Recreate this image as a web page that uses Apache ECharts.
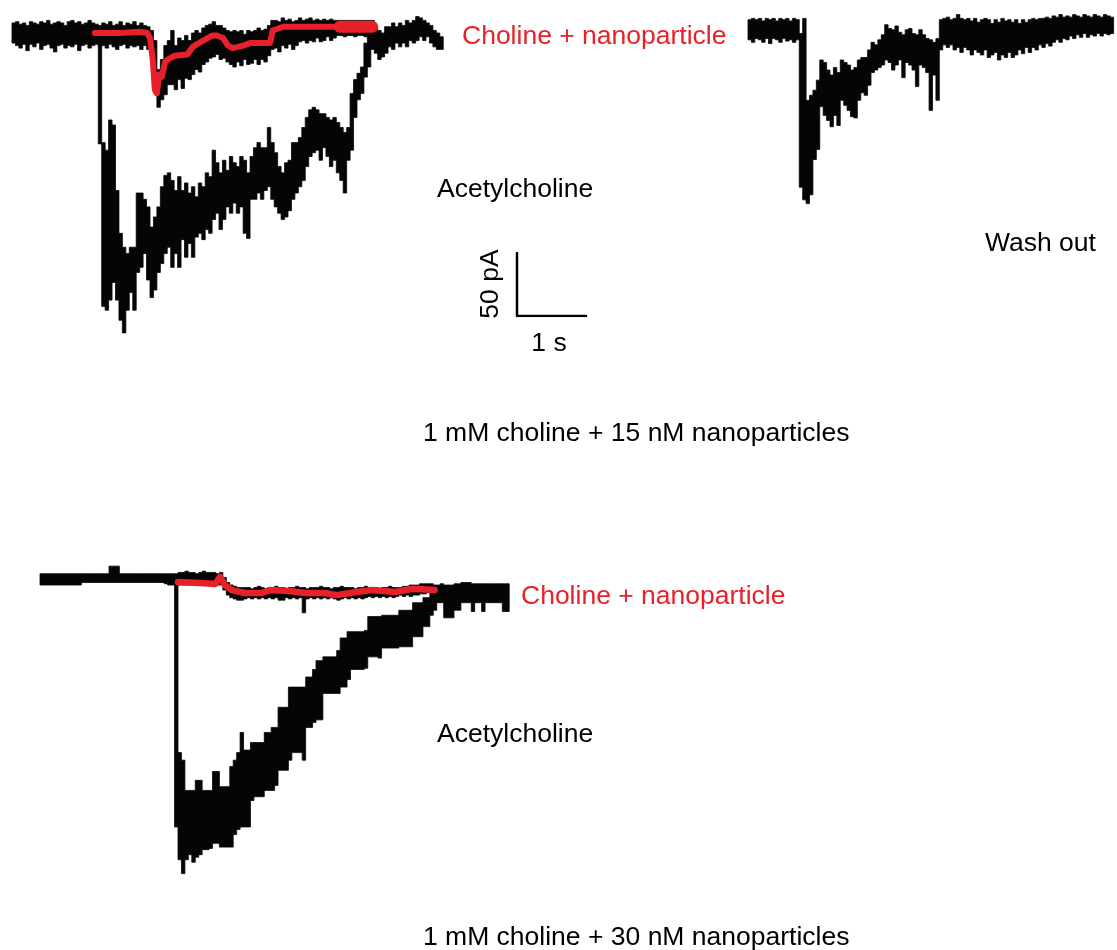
<!DOCTYPE html>
<html>
<head>
<meta charset="utf-8">
<script src="https://cdn.jsdelivr.net/npm/echarts@6/dist/echarts.min.js"></script>
<style>
html,body{margin:0;padding:0;background:#fff;}
#chart{width:1117px;height:950px;}
</style>
</head>
<body>
<div id="chart"></div>
<script>
// ---------- DATA (time in s, current in pA, sampled every 0.05 s) ----------
const sampleStep = 0.05;

// Top panel (15 nM): acetylcholine response, envelope of trace
const achTopHi = [8,9,7,8,6,9,8,7,9,8,10,7,8,9,8,6,9,10,8,9,7,8,10,8,7,
  0,-87,-93,-69,-73,-125,-159,-170,-175,-170,-170,-127,-127,-132,-138,-154,-146,-138,-122,-113,-111,-117,-125,-114,-125,
  -119,-127,-122,-130,-119,-122,-111,-114,-93,-103,-111,-101,-109,-98,-103,-106,-98,-101,-111,-98,-91,-87,-91,-91,-75,
  -87,-95,-106,-111,-103,-101,-87,-87,-83,-75,-67,-61,-59,-61,-64,-64,-67,-69,-67,-71,-75,-79,-75,-48,-37,-32,-27,-8,2,5,
  5,2,0,5,5,8,5,8,6,10,8,10,13,12,10,8,6,2,0,-3];
const achTopLo = [-8,-10,-12,-9,-14,-9,-11,-8,-13,-10,-9,-12,-15,-10,-9,-12,-10,-11,-9,-14,-10,-9,-12,-10,-9,
  -88,-217,-220,-212,-198,-212,-228,-238,-220,-206,-220,-190,-186,-175,-196,-210,-204,-190,-183,-175,-170,-186,-175,-186,-164,
  -178,-167,-178,-162,-159,-164,-156,-159,-148,-143,-156,-148,-138,-143,-135,-143,-138,-159,-163,-132,-132,-127,-132,-125,-122,
  -132,-138,-143,-148,-146,-141,-132,-127,-122,-117,-106,-98,-95,-93,-101,-91,-98,-106,-101,-111,-117,-127,-101,-93,-67,-53,-48,-35,-27,-13,
  -16,-21,-19,-16,-11,-13,-8,-11,-8,-11,-6,-8,-6,-3,-6,-3,-8,-11,-13,-13];

// Top panel: choline + nanoparticle trace (starts at 1.25 s)
const cholTopStart = 1.25;
const cholTopHi = [6,8,7,9,6,7,9,6,8,7,9,6,8,6,5,2,
  -6,-29,-21,-10,-6,2,-10,-4,-6,-2,-6,0,2,0,
  4,6,7,9,6,6,4,2,1,2,1,2,-1,2,1,2,4,2,3,
  6,10,10,9,12,10,11,9,10,12,10,11,12,10,11,10,11,10,11,10,10,
  10,10,10,10,10,10,10,10,10,10];
const cholTopLo = [-11,-10,-12,-9,-11,-13,-10,-9,-12,-10,-11,-10,-13,-10,-13,-17,
  -33,-59,-53,-49,-41,-41,-45,-37,-44,-36,-37,-33,-29,-31,
  -25,-23,-20,-19,-17,-21,-20,-23,-25,-27,-23,-26,-21,-25,-24,-21,-25,-21,-23,
  -18,-13,-12,-15,-10,-12,-9,-13,-10,-7,-6,-8,-6,-7,-4,-7,-6,-3,-6,-4,-2,
  -2,-3,-2,-2,-3,-2,-2,-3,-2,-2];

// Red highlight of the choline + nanoparticle trace (top)
const redTopT = [1.20,1.57,1.86,1.96,2.00,2.04,2.07,2.10,2.13,2.17,2.22,2.29,2.36,2.54,2.62,2.77,2.90,2.97,3.06,3.13,3.20,3.35,3.45,3.74,3.78,3.93,4.75];
const redTopV = [0,0,1,0,-4,-21,-45,-48,-33,-35,-23,-20,-18,-17,-11,-6,-2,-2,-4,-10,-12,-10,-8,-8,2,5,5];
const redTopEndT = [4.75,5.22];
const redTopEndV = [5,5];

// Wash out trace
const washHi = [9,10,9,10,8,10,9,10,8,10,9,10,8,10,9,
  -2,10,-55,-51,-47,-39,
  -23,-25,-31,-35,-29,-33,-23,-25,-27,-31,-29,-23,-21,-21,-15,-9,-11,-7,-3,
  5,2,1,4,-1,-3,1,2,-2,-3,1,-3,-6,-7,-9,-6,
  9,10,11,9,10,13,10,9,10,8,10,7,9,10,9,6,9,7,10,8,9,7,9,6,
  9,7,9,10,9,10,10,11,10,12,11,13,11,12,11,13,12,11,13,12,11,13,12,11,13,12,11];
const washLo = [-7,-9,-6,-7,-9,-6,-10,-6,-7,-9,-6,-8,-7,-9,-7,
  -124,-134,-137,-130,-102,-94,
  -60,-67,-71,-76,-67,-75,-55,-59,-63,-68,-69,-55,-49,-51,-43,-33,-31,-29,-27,
  -23,-25,-31,-27,-23,-37,-25,-27,-31,-44,-27,-29,-33,-63,-35,-55,
  -15,-11,-13,-11,-15,-13,-17,-13,-15,-19,-15,-17,-19,-15,-21,-19,-17,-23,-19,-21,-17,-21,-19,-15,
  -18,-13,-17,-13,-15,-11,-13,-10,-12,-9,-7,-9,-6,-7,-4,-6,-3,-5,-2,-5,-3,-4,-2,-4,-2,-3,-2];

// Bottom panel (30 nM): acetylcholine response
const achBotHi = [5,5,5,5,5,5,5,5,5,5,5,5,5,5,5,5,5,5,5,5,11,11,11,5,5,5,5,5,5,5,5,5,5,5,5,5,5,5,5,
  5,
  -137,-143,-167,-167,-167,-159,-159,-167,-167,-167,-152,-152,-164,-164,-164,-148,-143,-137,-121,-135,
  -135,-129,-129,-129,-129,-121,-121,-117,-117,-101,-101,-101,-85,-85,-85,-85,-85,-77,-77,-71,
  -64,-64,-61,-61,-61,-61,-56,-46,-46,-41,-41,-41,-41,-41,-40,-29,-29,-29,-29,-28,
  -28,-28,-28,-28,-24,-24,-24,-24,-18,-18,-18,-14,-14,-8,-4,-4,-3,-4,-4,-4,
  -3,-3,-2,-2,-2,-3,-3,-3,-3,-3,-3,-3,-3,-3,-3,-3];
const achBotLo = [-4,-4,-4,-4,-4,-4,-4,-4,-4,-4,-4,-4,-2,-2,-2,-2,-2,-2,-2,-2,-2,-2,-2,-2,-2,-2,-2,-2,-2,-2,-2,-2,-2,-2,-2,-2,-3,-4,-4,
  -196,
  -222,-233,-222,-218,-224,-220,-218,-214,-214,-213,-209,-209,-212,-212,-212,-212,-202,-198,-196,-196,
  -196,-175,-172,-172,-172,-167,-167,-167,-163,-151,-151,-151,-143,-137,-137,-137,-143,-117,-117,-113,
  -111,-111,-90,-90,-90,-90,-90,-85,-85,-79,-71,-71,-71,-71,-70,-61,-61,-61,-62,-54,
  -54,-54,-54,-54,-53,-53,-53,-53,-45,-45,-45,-37,-37,-28,-24,-18,-18,-30,-30,-30,
  -24,-24,-18,-18,-18,-25,-18,-18,-25,-18,-18,-18,-18,-18,-25,-25];

// Bottom panel: choline + nanoparticle trace (starts at 2.00 s)
const cholBotStart = 2.00;
const cholBotHi = [6,6,7,6,6,5,6,7,6,6,6,5,6,
  2,-2,-4,-5,-6,-6,
  -6,-6,-7,-6,-5,-6,-7,-6,-6,-5,-6,-6,-7,-6,-6,-5,-6,-6,-7,-6,-6,-6,-5,-6,-6,-7,-6,-6,-5,-6,-6,-6,-7,-6,-6,-5,-6,-6,-6,-7,-6,-6,-5,-6,-6,-6,-5,-5,-4,-4,-4,-3,-3,-3,-3];
const cholBotLo = [-4,-4,-4,-4,-4,-4,-4,-4,-4,-4,-4,-4,-4,
  -8,-12,-14,-15,-16,-16,
  -15,-14,-15,-14,-15,-14,-15,-14,-15,-14,-16,-16,-14,-15,-14,-15,-14,-26,-15,-14,-15,-14,-15,-14,-15,-14,-15,-16,-15,-14,-15,-14,-15,-14,-15,-14,-13,-14,-13,-14,-13,-14,-13,-14,-13,-12,-13,-12,-13,-12,-12,-11,-11,-10,-10];

// Red highlight (bottom)
const redBotT = [2.00,2.32,2.54,2.61,2.68,2.78,2.97,3.22,3.33,3.62,3.84,4.13,4.30,4.59,4.81,5.14,5.41,5.72];
const redBotV = [-1.6,-2.4,-3.2,2.4,-4,-8,-10.3,-10.3,-8,-8.7,-10.3,-10.3,-12,-9.5,-8,-9.5,-7,-8];

// Scale bar: 1 s by 50 pA
const scaleT = [0,0,1];
const scaleV = [50,0,0];

// Texts
const labelCholine = 'Choline + nanoparticle';
const labelAch = 'Acetylcholine';
const labelWash = 'Wash out';
const labelScaleY = '50 pA';
const labelScaleX = '1 s';
const caption15 = '1 mM choline + 15 nM nanoparticles';
const caption30 = '1 mM choline + 30 nM nanoparticles';

// ---------- LAYOUT ----------
const PX_PER_S = 69, PX_PER_PA = 1.26;
const RED = '#e8202a';
const INK = '#050505';
const FONT = '26.5px "Liberation Sans", Arial, Helvetica, sans-serif';

function grid(x0, yBase, tMax, vMin, vMax) {
  return {left: x0, top: yBase - vMax * PX_PER_PA, width: tMax * PX_PER_S,
          height: (vMax - vMin) * PX_PER_PA, containLabel: false};
}
const panels = [
  {g: grid(12, 33, 6.4, -250, 25), tMax: 6.4, vMin: -250, vMax: 25},
  {g: grid(748, 31, 5.4, -150, 24), tMax: 5.4, vMin: -150, vMax: 24},
  {g: grid(40, 580, 6.9, -250, 20), tMax: 6.9, vMin: -250, vMax: 20},
  {g: {left: 517, top: 253, width: PX_PER_S, height: 50 * PX_PER_PA}, tMax: 1, vMin: 0, vMax: 50}
];

// A trace is drawn as one stepped polygon: upper envelope forward, lower envelope back.
function bandSeries(idx, t0, hi, lo, color) {
  const data = hi.map((h, i) => [t0 + i * sampleStep, h, lo[i]]);
  return {
    type: 'custom', xAxisIndex: idx, yAxisIndex: idx, silent: true, clip: false,
    encode: {x: 0, y: [1, 2]},
    renderItem: function (params, api) {
      if (params.dataIndex !== 0) return null;
      const top = [], bot = [];
      data.forEach(function (d) {
        const t = d[0];
        top.push(api.coord([t, d[1]]), api.coord([t + sampleStep, d[1]]));
        bot.push(api.coord([t, d[2]]), api.coord([t + sampleStep, d[2]]));
      });
      const pts = top.concat(bot.reverse());
      return {type: 'polygon', shape: {points: pts},
        style: {fill: color, stroke: color, lineWidth: 0.8, lineJoin: 'miter'}};
    },
    data: data
  };
}
function lineSeries(idx, ts, vs, color, width) {
  return {type: 'line', xAxisIndex: idx, yAxisIndex: idx, silent: true, symbol: 'none',
    lineStyle: {color: color, width: width, cap: 'round', join: 'round'},
    data: ts.map((t, i) => [t, vs[i]])};
}
function txt(text, x, y, color, extra) {
  return Object.assign({type: 'text', x: x, y: y, silent: true,
    style: {text: text, font: FONT, fill: color || '#000', align: 'left', verticalAlign: 'middle'}}, extra || {});
}

const chart = echarts.init(document.getElementById('chart'), null, {renderer: 'canvas'});
chart.setOption({
  animation: false,
  backgroundColor: '#fff',
  grid: panels.map(p => p.g),
  xAxis: panels.map((p, i) => ({type: 'value', gridIndex: i, min: 0, max: p.tMax, show: false})),
  yAxis: panels.map((p, i) => ({type: 'value', gridIndex: i, min: p.vMin, max: p.vMax, show: false})),
  series: [
    bandSeries(0, 0, achTopHi, achTopLo, INK),
    bandSeries(0, cholTopStart, cholTopHi, cholTopLo, INK),
    lineSeries(0, redTopT, redTopV, RED, 6),
    lineSeries(0, redTopEndT, redTopEndV, RED, 12),
    bandSeries(1, 0, washHi, washLo, INK),
    bandSeries(2, 0, achBotHi, achBotLo, INK),
    bandSeries(2, cholBotStart, cholBotHi, cholBotLo, INK),
    lineSeries(2, redBotT, redBotV, RED, 6.5),
    lineSeries(3, scaleT, scaleV, '#000', 2.5)
  ],
  graphic: [
    txt(labelCholine, 462, 37, RED),
    txt(labelAch, 437, 190),
    txt(labelWash, 985, 244),
    txt(labelScaleY, 491, 284, '#000', {rotation: Math.PI / 2, style: {text: labelScaleY, font: FONT, fill: '#000', align: 'center', verticalAlign: 'middle'}}),
    txt(labelScaleX, 549, 344, '#000', {style: {text: labelScaleX, font: FONT, fill: '#000', align: 'center', verticalAlign: 'middle'}}),
    txt(caption15, 423, 434),
    txt(labelCholine, 521, 597, RED),
    txt(labelAch, 437, 735),
    txt(caption30, 423, 938)
  ]
});
</script>
</body>
</html>
